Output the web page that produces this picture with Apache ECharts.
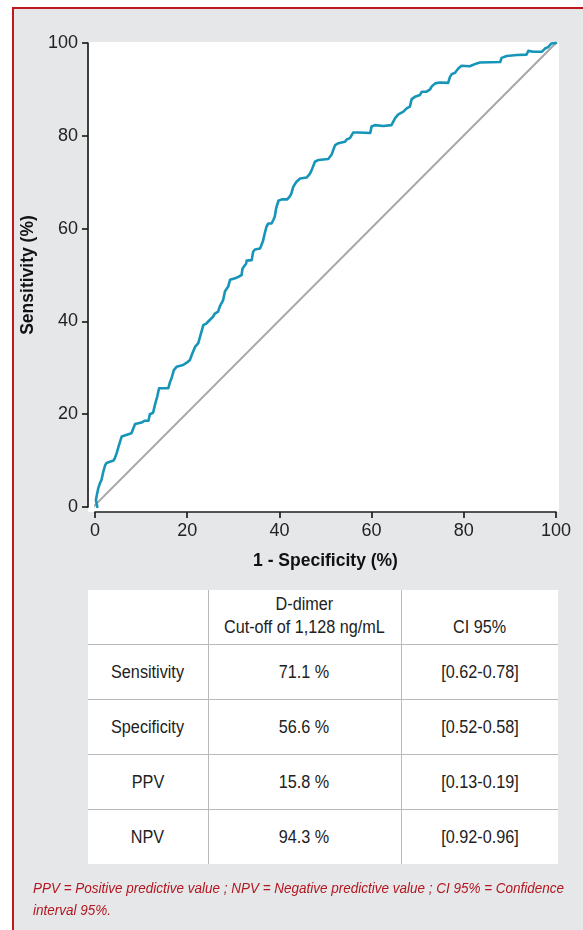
<!DOCTYPE html>
<html>
<head>
<meta charset="utf-8">
<script src="https://cdn.jsdelivr.net/npm/echarts@6/dist/echarts.min.js"></script>
<style>
  html, body { margin:0; padding:0; background:#ffffff; }
  body { width:583px; height:930px; position:relative; overflow:hidden; font-family:"Liberation Sans", Arial, sans-serif; }
  #frame { position:absolute; left:12px; top:7px; width:600px; height:960px; background:#e6e7e9;
           border-left:2px solid #c2151d; border-top:2px solid #c2151d; }
  #chart { position:absolute; left:0; top:0; width:583px; height:930px; }
  #tbl { position:absolute; left:88px; top:590px; width:470px; border-collapse:collapse; table-layout:fixed;
         background:#ffffff; font-size:18px; color:#222; }
  #tbl td { border:1px solid #b9b9bb; text-align:center; vertical-align:middle; padding:0; height:54px; }
  #tbl td span { display:inline-block; transform:scaleX(0.9); white-space:nowrap; }
  #tbl tr:first-child td { border-top:none; }
  #tbl tr:last-child td { border-bottom:none; }
  #tbl td:first-child { border-left:none; }
  #tbl td:last-child { border-right:none; }
  #tbl tr.hdr td { vertical-align:bottom; padding-bottom:5px; line-height:23px; height:49px; }
  #note { position:absolute; left:33px; top:877px; width:626px; font-style:italic; font-size:15.5px;
          line-height:22px; color:#b3161f; transform:scaleX(0.87); transform-origin:0 0; }
</style>
</head>
<body>
<div id="frame"></div>
<div id="chart"></div>
<table id="tbl"></table>
<div id="note"></div>
<script>
// ROC curve points: [1 - specificity (%), sensitivity (%)]
var rocPoints = [
  [0.5,0],[0.2,1.5],[0.4,2.6],[0.7,4],[1.1,5.2],[1.4,5.8],[1.8,7.6],[2.2,9.0],[2.5,9.5],[4,10],
  [4.3,10.5],[4.7,11.6],[5.1,13],[5.4,13.4],[5.8,15.2],[7.9,15.9],[8.7,17.9],[10.1,18.2],[10.8,18.6],
  [11.6,18.6],[11.9,20],[12.6,20.3],[13,22],[13.5,23.8],[13.9,25.6],[15.9,25.6],[16.3,27],[16.6,27.7],
  [17.1,29.5],[17.7,30.2],[19.1,30.6],[19.9,31.1],[20.6,31.7],[21,32.8],[21.7,34.5],[22.4,35.3],
  [22.9,37.1],[23.5,39.2],[24.2,39.6],[24.9,40.3],[25.6,41],[26,41.7],[26.7,42.1],[27.1,43.3],
  [27.8,44.6],[28.2,46.5],[28.9,47.5],[29.3,49],[30.4,49.3],[31.1,49.6],[31.8,50],[32,51.4],
  [32.8,52.5],[32.9,53.1],[34,53.2],[34.3,55],[34.7,55.5],[35.8,55.7],[36.4,57.2],[36.9,59.3],
  [37.2,60.4],[37.6,61.1],[38.3,61.1],[38.7,61.9],[39,62.6],[39.3,64.4],[39.8,66],[40.5,66.3],
  [41.7,66.3],[42.3,67],[42.6,67.6],[43,69],[43.7,70.1],[44.5,70.8],[45.9,71],[46.6,71.8],[47,72.6],
  [47.7,74.4],[48.5,74.8],[50.6,75],[51.3,75.9],[51.7,77],[52.1,78],[52.8,78.4],[54.2,78.7],
  [54.6,79.2],[55.3,79.5],[56,80.7],[57.1,80.7],[59.7,80.6],[60,82],[60.7,82.3],[62.5,82.1],
  [64.3,82.3],[65.1,83.8],[65.8,84.6],[66.9,85.2],[67.6,85.9],[68.3,86.3],[68.7,87.9],[69.4,88.4],
  [69.8,88.8],[70.5,88.8],[70.9,89.5],[71.9,89.5],[72.7,90],[73,90.6],[73.8,91.3],[74.8,91.5],
  [76.6,91.4],[77,92.7],[77.4,93.3],[78.1,93.6],[78.8,94.5],[79.5,95.1],[81.3,95],[82.8,95.6],
  [83.1,95.9],[83.5,95.8],[87.9,95.9],[88.2,96.8],[89.3,97.2],[91.5,97.4],[93.6,97.5],[94,98.3],
  [95.1,98.1],[96.9,98.1],[97.6,98.8],[98,98.6],[98.3,99.1],[99,99.9],[100,100]
];
// Reference (chance) diagonal
var diagonalPoints = [[-1.5,-1.1],[100,100]];

var xTicks = [0,20,40,60,80,100];
var yTicks = [0,20,40,60,80,100];
var xTitle = '1 - Specificity (%)';
var yTitle = 'Sensitivity (%)';

// Table
var tableHeader = ['', 'D-dimer<br>Cut-off of 1,128 ng/mL', 'CI 95%'];
var tableRows = ['Sensitivity', 'Specificity', 'PPV', 'NPV'];
var tableValues = ['71.1 %', '56.6 %', '15.8 %', '94.3 %'];
var tableCI = ['[0.62-0.78]', '[0.52-0.58]', '[0.13-0.19]', '[0.92-0.96]'];
var footnote = 'PPV = Positive predictive value ; NPV = Negative predictive value ; CI 95% = Confidence interval 95%.';

// build table
function cell(t){ return '<td>' + (t ? '<span>' + t + '</span>' : '') + '</td>'; }
var tbl = document.getElementById('tbl');
var html = '<colgroup><col style="width:120px"><col style="width:193px"><col style="width:157px"></colgroup>';
html += '<tr class="hdr">' + tableHeader.map(cell).join('') + '</tr>';
for (var i = 0; i < tableRows.length; i++) {
  html += '<tr>' + cell(tableRows[i]) + cell(tableValues[i]) + cell(tableCI[i]) + '</tr>';
}
tbl.innerHTML = html;
document.getElementById('note').textContent = footnote;

var axisColor = '#1e1e1e';
var fontFam = '"Liberation Sans", Arial, sans-serif';
var chart = echarts.init(document.getElementById('chart'), null, {renderer:'canvas'});
chart.setOption({
  animation: false,
  backgroundColor: 'transparent',
  graphic: [{
    type: 'rect', silent: true, z: -10,
    shape: { x: 88, y: 42, width: 471, height: 470 },
    style: { fill: '#ffffff' }
  }],
  grid: { left: 95, right: 27, top: 43, bottom: 423, outerBoundsMode: 'none', containLabel: false },
  xAxis: {
    type: 'value', min: xTicks[0], max: xTicks[xTicks.length-1], interval: 20,
    offset: 5,
    axisLine: { show: true, onZero: false, lineStyle: { color: axisColor, width: 1.7 } },
    axisTick: { show: true, length: 6, lineStyle: { color: axisColor, width: 1.7 } },
    axisLabel: { color: '#222', fontSize: 18, fontFamily: fontFam, margin: 10 },
    splitLine: { show: false },
    name: xTitle, nameLocation: 'middle', nameGap: 40,
    nameTextStyle: { color: '#111', fontSize: 17.5, fontWeight: 'bold', fontFamily: fontFam }
  },
  yAxis: {
    type: 'value', min: yTicks[0], max: yTicks[yTicks.length-1], interval: 20,
    offset: 7,
    axisLine: { show: true, onZero: false, lineStyle: { color: axisColor, width: 1.7 } },
    axisTick: { show: true, length: 6, lineStyle: { color: axisColor, width: 1.7 } },
    axisLabel: { color: '#222', fontSize: 18, fontFamily: fontFam, margin: 10 },
    splitLine: { show: false },
    name: yTitle, nameLocation: 'middle', nameGap: 35,
    nameTextStyle: { color: '#111', fontSize: 17.5, fontWeight: 'bold', fontFamily: fontFam }
  },
  series: [
    {
      type: 'line', data: diagonalPoints, symbol: 'none', clip: false, silent: true,
      lineStyle: { color: '#a7a7a9', width: 2 }, z: 2
    },
    {
      type: 'line', data: rocPoints, symbol: 'none', clip: false, silent: true,
      lineStyle: { color: '#1795b8', width: 2.6, join: 'round', cap: 'round' }, z: 3
    }
  ]
});
</script>
</body>
</html>
